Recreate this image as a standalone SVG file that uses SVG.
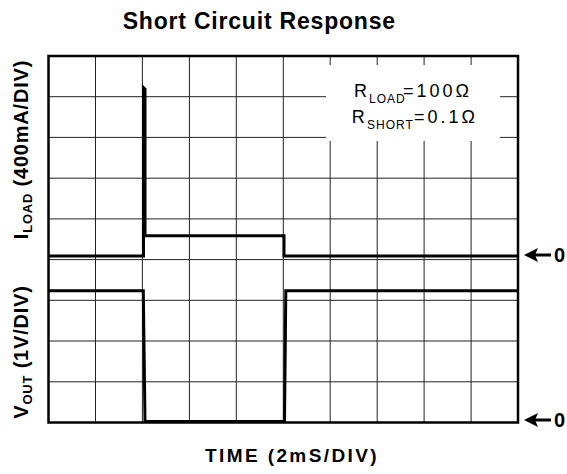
<svg xmlns="http://www.w3.org/2000/svg" width="567" height="474" viewBox="0 0 567 474">
<style>
.t{font-family:"Liberation Sans",Arial,sans-serif;fill:#000}
.b{font-weight:bold}
.grid{stroke:#222;stroke-width:1;fill:none}
.trace{stroke:#000;stroke-width:3;fill:none;stroke-linejoin:miter}
</style>
<rect width="567" height="474" fill="#fff"/>
<text id="title" class="t b" x="122.7" y="29" font-size="23" letter-spacing="0.8">Short Circuit Response</text>
<g id="grid" class="grid">
<path d="M95.5,56V422.5M142.4,56V422.5M189.4,56V422.5M236.3,56V422.5M283.3,56V422.5M330.2,56V422.5M377.2,56V422.5M424.1,56V422.5M471.1,56V422.5"/>
<path d="M48.5,96.7H518M48.5,137.4H518M48.5,178.2H518M48.5,218.9H518M48.5,259.6H518M48.5,300.3H518M48.5,341H518M48.5,381.8H518"/>
</g>
<rect id="frame" x="48.5" y="56" width="469.5" height="366.5" fill="none" stroke="#000" stroke-width="2.5"/>
<g id="traces">
<path class="trace" d="M48.5,256H143.5V87.5L145,89V235.7H284V256H518"/>
<path class="trace" d="M48.5,290.7H143.3L145,421.5H284.5L285.8,290.7H518"/>
</g>
<g id="annotation">
<rect x="326" y="65" width="174" height="76" fill="#fff"/>
<text class="t" font-size="18" letter-spacing="3"><tspan x="354" y="97.3">R</tspan><tspan x="369" y="103.3" font-size="12" letter-spacing="1">LOAD</tspan><tspan x="403" y="97.3">=100Ω</tspan></text>
<text class="t" font-size="18" letter-spacing="3"><tspan x="351.7" y="123.3">R</tspan><tspan x="367" y="129.3" font-size="12" letter-spacing="1">SHORT</tspan><tspan x="414" y="123.3">=0.1Ω</tspan></text>
</g>
<g id="ylabel-i">
<text class="t b" font-size="20" letter-spacing="0.8" text-anchor="middle" transform="translate(27.5,149.5) rotate(-90)">I<tspan font-size="13" dy="4">LOAD</tspan><tspan dy="-4"> (400mA/DIV)</tspan></text>
</g>
<g id="ylabel-v">
<text class="t b" font-size="20" letter-spacing="0.8" text-anchor="middle" transform="translate(27.5,352) rotate(-90)">V<tspan font-size="13" dy="4">OUT</tspan><tspan dy="-4"> (1V/DIV)</tspan></text>
</g>
<text id="xlabel" class="t b" x="205" y="461.5" font-size="19" letter-spacing="2.4">TIME (2mS/DIV)</text>
<g id="zero-i">
<path d="M535,255H551" stroke="#000" stroke-width="3"/>
<polygon points="524,255 538,248 535,255 538,262" fill="#000"/>
<text class="t b" x="554" y="262" font-size="20">0</text>
</g>
<g id="zero-v">
<path d="M535,420H551" stroke="#000" stroke-width="3"/>
<polygon points="524,420 538,413 535,420 538,427" fill="#000"/>
<text class="t b" x="554" y="427" font-size="20">0</text>
</g>
</svg>
